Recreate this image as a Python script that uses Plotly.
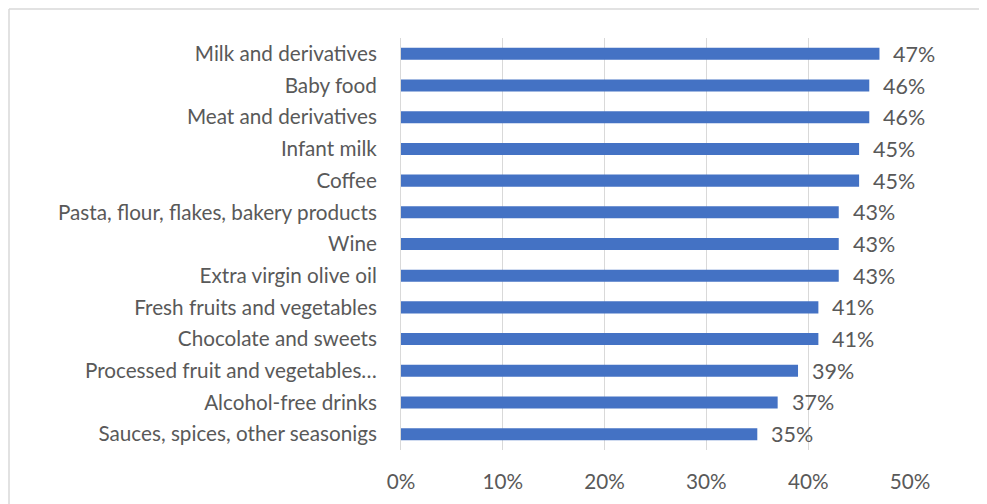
import plotly.graph_objects as go

categories = [
    "Milk and derivatives",
    "Baby food",
    "Meat and derivatives",
    "Infant milk",
    "Coffee",
    "Pasta, flour, flakes, bakery products",
    "Wine",
    "Extra virgin olive oil",
    "Fresh fruits and vegetables",
    "Chocolate and sweets",
    "Processed fruit and vegetables…",
    "Alcohol-free drinks",
    "Sauces, spices, other seasonigs",
]
values = [0.47, 0.46, 0.46, 0.45, 0.45, 0.43, 0.43, 0.43, 0.41, 0.41, 0.39, 0.37, 0.35]
tick_vals = [0, 0.1, 0.2, 0.3, 0.4, 0.5]
tick_text = ["0%", "10%", "20%", "30%", "40%", "50%"]

font_family = "Lato, Open Sans, sans-serif"
text_color = "#595959"
fsize = 20.7

W, H = 987, 504
ML, MR, MT, MB = 393, 85, 30, 62
PW, PH = W - ML - MR, H - MT - MB

fig = go.Figure()
fig.add_trace(go.Bar(
    y=categories,
    x=values,
    orientation="h",
    marker=dict(color="#4472C4", line=dict(width=0)),
    width=0.38,
    hoverinfo="skip",
))

annotations = []
for c, v in zip(categories, values):
    annotations.append(dict(
        x=v, y=c, xref="x", yref="y",
        text=f"{round(v*100)}%",
        showarrow=False, xanchor="left", yanchor="middle",
        xshift=12, yshift=0,
        font=dict(family=font_family, size=21.5, color=text_color),
    ))

border = dict(color="#d9d9d9", width=1.5)
fig.update_layout(
    width=W, height=H,
    margin=dict(l=ML, r=MR, t=MT, b=MB, autoexpand=False),
    paper_bgcolor="white",
    plot_bgcolor="white",
    showlegend=False,
    annotations=annotations,
    font=dict(family=font_family, size=fsize, color=text_color),
    xaxis=dict(
        range=[0, 0.5],
        tickvals=tick_vals,
        ticktext=tick_text,
        showgrid=True,
        gridcolor="#d9d9d9",
        gridwidth=1,
        zeroline=False,
        showline=False,
        ticks="",
        ticklabelstandoff=17,
        tickfont=dict(family=font_family, size=fsize, color=text_color),
        fixedrange=True,
        automargin=False,
    ),
    yaxis=dict(
        autorange="reversed",
        showgrid=False,
        zeroline=False,
        showline=True,
        linecolor="#d9d9d9",
        linewidth=1,
        ticks="",
        ticklabelstandoff=19,
        tickfont=dict(family=font_family, size=fsize, color=text_color),
        fixedrange=True,
        automargin=False,
    ),
    shapes=[
        dict(type="line", xref="paper", yref="paper",
             x0=(1 - ML) / PW, x1=1 + (MR + 60) / PW,
             y0=1 + (MT - 1) / PH, y1=1 + (MT - 1) / PH,
             line=border, layer="below"),
        dict(type="line", xref="paper", yref="paper",
             x0=(1 - ML) / PW, x1=(1 - ML) / PW,
             y0=-(MB + 40) / PH, y1=1 + (MT - 1) / PH,
             line=border, layer="below"),
    ],
)

fig.write_html("out.html")
